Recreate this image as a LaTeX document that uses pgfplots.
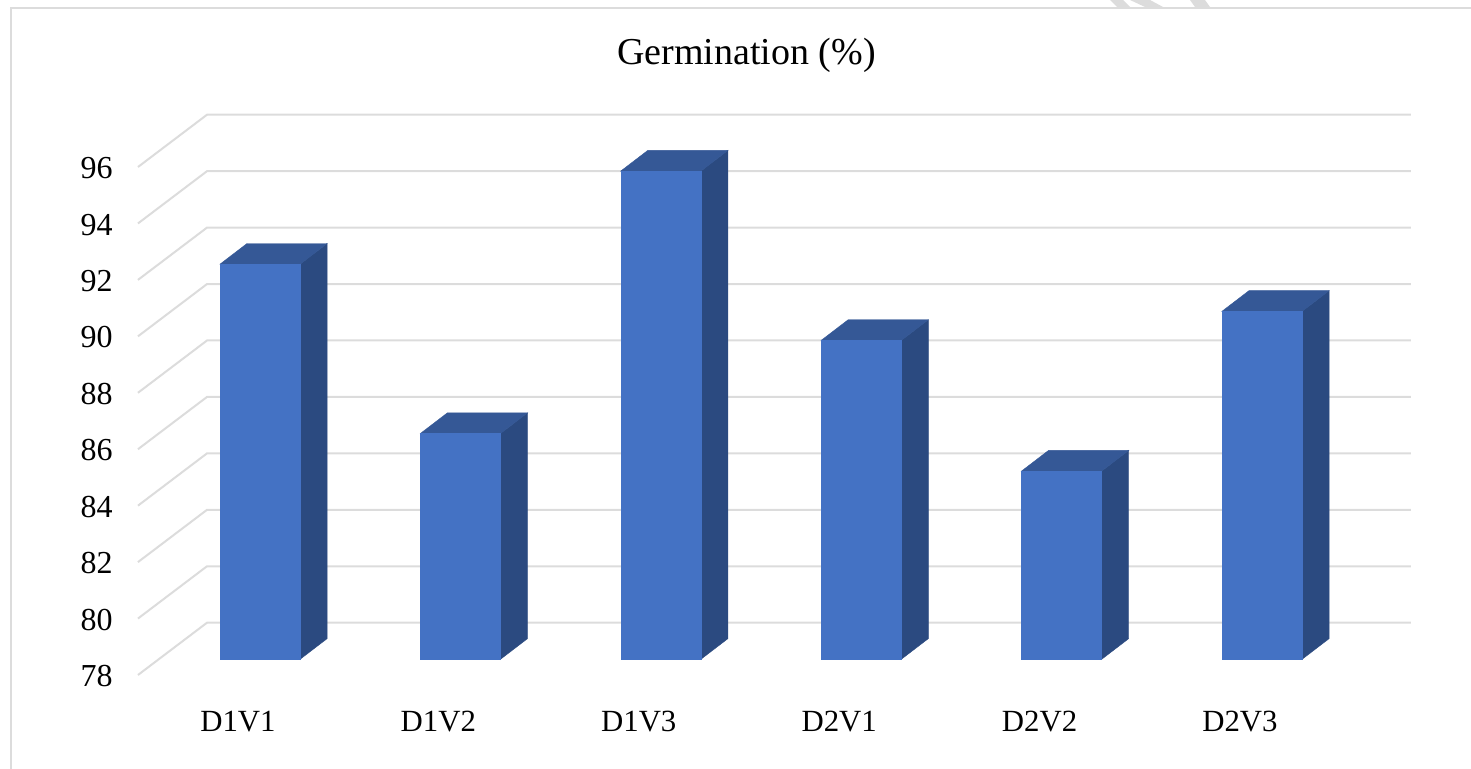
\documentclass[border=0pt]{standalone}
\usepackage{fontspec}
\setmainfont{Liberation Serif}
\usepackage{pgfplots}
\pgfplotsset{compat=1.18}
\definecolor{front}{HTML}{4472C4}
\definecolor{topf}{HTML}{355896}
\definecolor{sidef}{HTML}{2B4A80}
\definecolor{gridc}{HTML}{DCDCDC}
\begin{document}
\begin{tikzpicture}
\begin{axis}[
  at={(0pt,0pt)}, anchor=south west,
  scale only axis, width=735.5pt, height=384.5pt,
  xmin=-1.2974, xmax=6.0429, ymin=74.113, ymax=101.363,
  axis line style={draw=none}, tick style={draw=none},
  major tick length=0pt,
  ytick={78,80,82,84,86,88,90,92,94,96},
  xtick={-0.11,0.89,1.89,2.89,3.89,4.89},
  xticklabels={D1V1,D1V2,D1V3,D2V1,D2V2,D2V3},
  /pgf/number format/assume math mode=true,
  yticklabel style={font=\fontsize{16}{16}\selectfont, anchor=east, xshift=56.5pt, yshift=-8.4pt, inner sep=0pt},
  xticklabel style={font=\fontsize{15.4}{16}\selectfont, anchor=center, yshift=23.5pt, inner sep=0pt},
  title={Germination (\%)},
  title style={at={(0.5075,0.9125)}, anchor=center, font=\fontsize{19}{20}\selectfont, inner sep=0pt},
  clip=false,
]
% wall gridlines
\addplot[gridc, line width=1pt] coordinates {(-0.609,77.444) (-0.2645,79.297) (5.743,79.297)};
\addplot[gridc, line width=1pt] coordinates {(-0.609,79.444) (-0.2645,81.297) (5.743,81.297)};
\addplot[gridc, line width=1pt] coordinates {(-0.609,81.444) (-0.2645,83.297) (5.743,83.297)};
\addplot[gridc, line width=1pt] coordinates {(-0.609,83.444) (-0.2645,85.297) (5.743,85.297)};
\addplot[gridc, line width=1pt] coordinates {(-0.609,85.444) (-0.2645,87.297) (5.743,87.297)};
\addplot[gridc, line width=1pt] coordinates {(-0.609,87.444) (-0.2645,89.297) (5.743,89.297)};
\addplot[gridc, line width=1pt] coordinates {(-0.609,89.444) (-0.2645,91.297) (5.743,91.297)};
\addplot[gridc, line width=1pt] coordinates {(-0.609,91.444) (-0.2645,93.297) (5.743,93.297)};
\addplot[gridc, line width=1pt] coordinates {(-0.609,93.444) (-0.2645,95.297) (5.743,95.297)};
\addplot[gridc, line width=1pt] coordinates {(-0.609,95.444) (-0.2645,97.297) (5.743,97.297)};
% D1V1 = 92.0
\addplot[fill=sidef, draw=sidef, line width=0.2pt] coordinates {(0.2,78) (0.335,78.733) (0.335,92.733) (0.2,92)} -- cycle;
\addplot[fill=topf, draw=topf, line width=0.2pt] coordinates {(-0.2,92) (0.2,92) (0.335,92.733) (-0.065,92.733)} -- cycle;
\addplot[fill=front, draw=front, line width=0.2pt] coordinates {(-0.2,78) (0.2,78) (0.2,92) (-0.2,92)} -- cycle;
% D1V2 = 86.0
\addplot[fill=sidef, draw=sidef, line width=0.2pt] coordinates {(1.2,78) (1.335,78.733) (1.335,86.733) (1.2,86)} -- cycle;
\addplot[fill=topf, draw=topf, line width=0.2pt] coordinates {(0.8,86) (1.2,86) (1.335,86.733) (0.935,86.733)} -- cycle;
\addplot[fill=front, draw=front, line width=0.2pt] coordinates {(0.8,78) (1.2,78) (1.2,86) (0.8,86)} -- cycle;
% D1V3 = 95.3
\addplot[fill=sidef, draw=sidef, line width=0.2pt] coordinates {(2.2,78) (2.335,78.733) (2.335,96.033) (2.2,95.3)} -- cycle;
\addplot[fill=topf, draw=topf, line width=0.2pt] coordinates {(1.8,95.3) (2.2,95.3) (2.335,96.033) (1.935,96.033)} -- cycle;
\addplot[fill=front, draw=front, line width=0.2pt] coordinates {(1.8,78) (2.2,78) (2.2,95.3) (1.8,95.3)} -- cycle;
% D2V1 = 89.3
\addplot[fill=sidef, draw=sidef, line width=0.2pt] coordinates {(3.2,78) (3.335,78.733) (3.335,90.033) (3.2,89.3)} -- cycle;
\addplot[fill=topf, draw=topf, line width=0.2pt] coordinates {(2.8,89.3) (3.2,89.3) (3.335,90.033) (2.935,90.033)} -- cycle;
\addplot[fill=front, draw=front, line width=0.2pt] coordinates {(2.8,78) (3.2,78) (3.2,89.3) (2.8,89.3)} -- cycle;
% D2V2 = 84.67
\addplot[fill=sidef, draw=sidef, line width=0.2pt] coordinates {(4.2,78) (4.335,78.733) (4.335,85.403) (4.2,84.67)} -- cycle;
\addplot[fill=topf, draw=topf, line width=0.2pt] coordinates {(3.8,84.67) (4.2,84.67) (4.335,85.403) (3.935,85.403)} -- cycle;
\addplot[fill=front, draw=front, line width=0.2pt] coordinates {(3.8,78) (4.2,78) (4.2,84.67) (3.8,84.67)} -- cycle;
% D2V3 = 90.33
\addplot[fill=sidef, draw=sidef, line width=0.2pt] coordinates {(5.2,78) (5.335,78.733) (5.335,91.063) (5.2,90.33)} -- cycle;
\addplot[fill=topf, draw=topf, line width=0.2pt] coordinates {(4.8,90.33) (5.2,90.33) (5.335,91.063) (4.935,91.063)} -- cycle;
\addplot[fill=front, draw=front, line width=0.2pt] coordinates {(4.8,78) (5.2,78) (5.2,90.33) (4.8,90.33)} -- cycle;
\end{axis}
% chart frame and the scan's stray marks (reference pixel coordinates)
\begin{scope}[x=0.5pt,y=-0.5pt,shift={(0pt,384.5pt)}]
\draw[gridc, line width=1.1pt] (1471,8) -- (11,8) -- (11,769);
\fill[gridc] (1110,0) -- (1123,0) -- (1130,7) -- (1117,7) -- cycle;
\fill[gridc] (1130,0) -- (1150,0) -- (1163,7) -- (1145,7) -- cycle;
\fill[gridc] (1190,0) -- (1205,0) -- (1210,7) -- (1195,7) -- cycle;
\end{scope}
\pgfresetboundingbox
\useasboundingbox (0pt,0pt) rectangle (735.5pt,384.5pt);
\end{tikzpicture}
\end{document}
